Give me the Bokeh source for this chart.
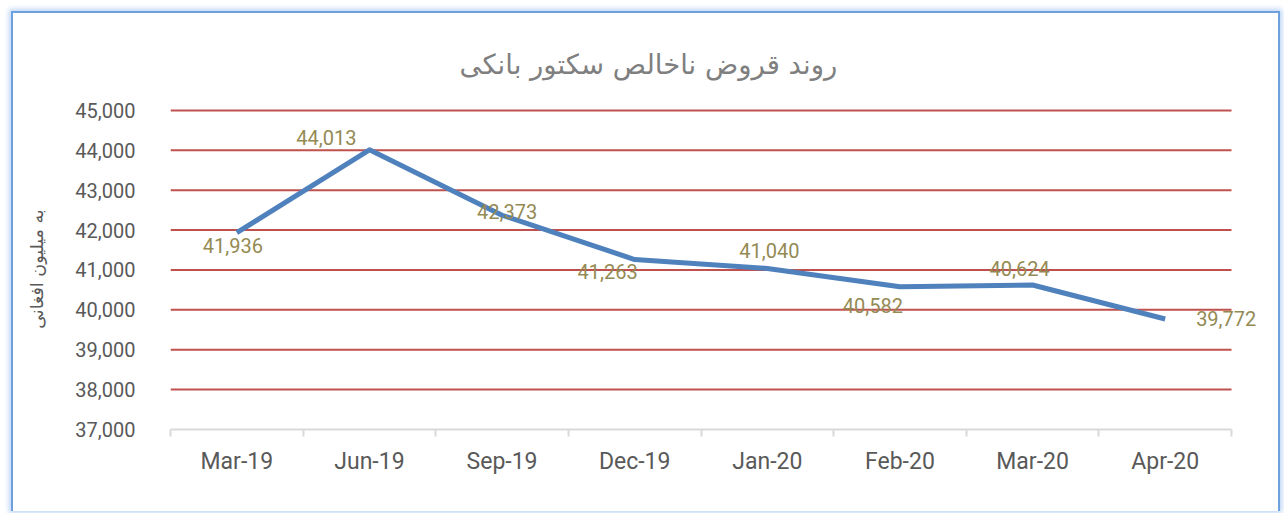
from bokeh.plotting import figure
from bokeh.layouts import column
from bokeh.models import Range1d, FixedTicker, ColumnDataSource, NumeralTickFormatter, LabelSet
from bokeh.core.properties import value
from bokeh.embed import file_html
from bokeh.resources import INLINE

# ---- data ----
categories = ["Mar-19", "Jun-19", "Sep-19", "Dec-19", "Jan-20", "Feb-20", "Mar-20", "Apr-20"]
loans = [41936, 44013, 42373, 41263, 41040, 40582, 40624, 39772]
y_ticks = [37000, 38000, 39000, 40000, 41000, 42000, 43000, 44000, 45000]
title_text = "روند قروض ناخالص سکتور بانکی"
y_label = "به میلیون افغانی"

# ---- layout / style ----
n = len(categories)
xs = [i + 0.5 for i in range(n)]
labels = [f"{v:,}" for v in loans]
label_dx = [-4, -43, 5, -27, 2, -27, -13, 61]
label_dy = [-13, 12, 4, -12, 18, -19, 16, 0]
right_pad = 0.294  # room for the last data label beyond the last category
top_pad = 50       # keeps the top grid line from being clipped

src = ColumnDataSource(dict(x=xs, y=loans, t=labels, dx=label_dx, dy=label_dy))

p = figure(width=1269, height=500, output_backend="svg", toolbar_location=None,
           x_range=Range1d(0, n + right_pad), y_range=Range1d(y_ticks[0], y_ticks[-1] + top_pad),
           min_border_left=157, min_border_right=12, min_border_top=95, min_border_bottom=84,
           title=title_text)
p.styles = {"border-left": "2px solid #6FA0DE", "border-top": "2px solid #6FA0DE",
            "border-right": "2px solid #6FA0DE", "box-shadow": "0 0 5px 2px #BCD6F5"}
p.outline_line_color = None
p.background_fill_color = "white"
p.border_fill_color = "white"

p.title.text_font = "DejaVu Sans"
p.title.text_font_size = "27.5px"
p.title.text_font_style = "normal"
p.title.text_color = "#7F7F7F"
p.title.align = "left"
p.title.offset = 289
p.title.standoff = 57

# horizontal grid lines spanning the category area only
grid_y = y_ticks[1:]
p.segment(x0=[0] * len(grid_y), x1=[n] * len(grid_y), y0=grid_y, y1=grid_y,
          line_color="#C0504D", line_width=2)

p.line("x", "y", source=src, line_color="#4F81BD", line_width=5, line_join="round")
p.add_layout(LabelSet(x="x", y="y", text="t", source=src, x_offset="dx", y_offset="dy",
                      text_align="center", text_baseline="middle", text_color="#948A54",
                      text_font=value("Roboto"), text_font_size=value("20px")))

# x axis
xa = p.xaxis[0]
xa.bounds = (0, n)
xa.ticker = FixedTicker(ticks=xs, minor_ticks=list(range(n + 1)))
xa.major_label_overrides = {x: c for x, c in zip(xs, categories)}
xa.major_tick_line_color = None
xa.minor_tick_line_color = "#D9D9D9"
xa.minor_tick_line_width = 2
xa.minor_tick_in = 0
xa.minor_tick_out = 7
xa.axis_line_color = "#D9D9D9"
xa.axis_line_width = 2
xa.major_label_text_font = "Roboto"
xa.major_label_text_font_size = "23px"
xa.major_label_text_color = "#595959"
xa.major_label_standoff = 11

# y axis
ya = p.yaxis[0]
ya.ticker = FixedTicker(ticks=y_ticks)
ya.formatter = NumeralTickFormatter(format="0,0")
ya.axis_line_color = None
ya.major_tick_line_color = None
ya.minor_tick_line_color = None
ya.major_label_text_font = "Roboto"
ya.major_label_text_font_size = "20px"
ya.major_label_text_color = "#595959"
ya.major_label_standoff = 29
ya.axis_label = y_label
ya.axis_label_text_font = "DejaVu Sans"
ya.axis_label_text_font_size = "17.5px"
ya.axis_label_text_font_style = "normal"
ya.axis_label_text_color = "#595959"
ya.axis_label_standoff = 25

p.xgrid.grid_line_color = None
p.ygrid.grid_line_color = None

root = column(p, styles={"padding-left": "11px", "padding-top": "11px"})

open("out.html", "w").write(file_html(root, INLINE))
